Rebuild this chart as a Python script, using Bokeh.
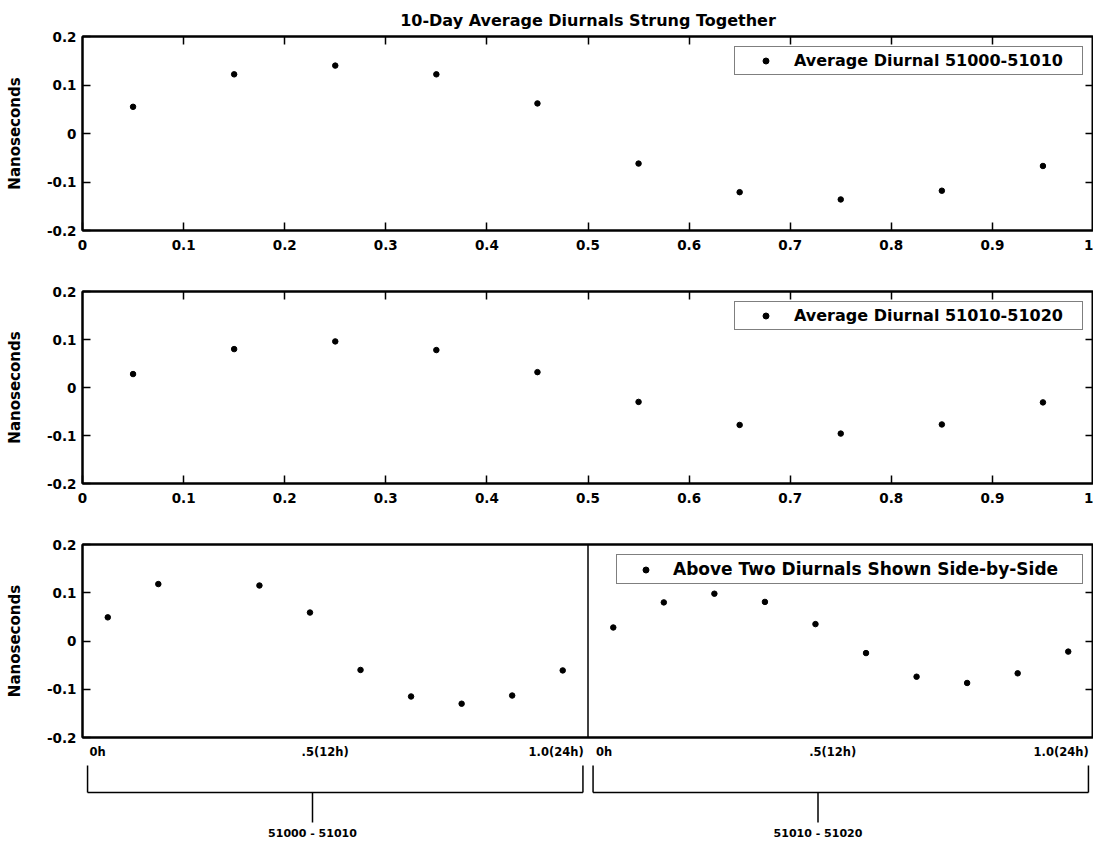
from bokeh.plotting import figure
from bokeh.layouts import column
from bokeh.models import (Range1d, FixedTicker, LinearAxis, Legend, LegendItem, Span,
                          CustomJSTickFormatter)
from bokeh.embed import file_html
from bokeh.resources import INLINE
from bokeh.core.properties import value

FONT = "DejaVu Sans"

# ---------------- data ----------------
title_text = "10-Day Average Diurnals Strung Together"
y_label = "Nanoseconds"

x_ticks = [0, 0.1, 0.2, 0.3, 0.4, 0.5, 0.6, 0.7, 0.8, 0.9, 1]
x_tick_labels = ["0", "0.1", "0.2", "0.3", "0.4", "0.5", "0.6", "0.7", "0.8", "0.9", "1"]
y_ticks = [-0.2, -0.1, 0, 0.1, 0.2]
y_tick_labels = ["-0.2", "-0.1", "0", "0.1", "0.2"]
inner_x_ticks = [0.1, 0.2, 0.3, 0.4, 0.5, 0.6, 0.7, 0.8, 0.9]
inner_y_ticks = [-0.1, 0, 0.1]

day_fraction = [0.05, 0.15, 0.25, 0.35, 0.45, 0.55, 0.65, 0.75, 0.85, 0.95]
diurnal_51000_51010 = [0.055, 0.122, 0.140, 0.122, 0.062, -0.062, -0.121, -0.136, -0.118, -0.067]
diurnal_51010_51020 = [0.028, 0.080, 0.096, 0.078, 0.032, -0.030, -0.078, -0.096, -0.077, -0.031]

side_first_x = [0.05, 0.15, 0.35, 0.45, 0.55, 0.65, 0.75, 0.85, 0.95]
side_first_y = [0.049, 0.118, 0.115, 0.059, -0.060, -0.115, -0.130, -0.113, -0.061]
side_second_x = [1.05, 1.15, 1.25, 1.35, 1.45, 1.55, 1.65, 1.75, 1.85, 1.95]
side_second_y = [0.028, 0.080, 0.098, 0.081, 0.035, -0.025, -0.074, -0.087, -0.067, -0.022]

legend_top = "Average Diurnal 51000-51010"
legend_mid = "Average Diurnal 51010-51020"
legend_bot = "Above Two Diurnals Shown Side-by-Side"

hour_tick_labels = ["0h", ".5(12h)", "1.0(24h)", "0h", ".5(12h)", "1.0(24h)"]
hour_tick_positions = [0.03, 0.48, 0.937, 1.032, 1.484, 1.936]

bracket_starts = [0, 1]
bracket_labels = ["51000 - 51010", "51010 - 51020"]

# ---------------- helpers ----------------
W = 1093
LEFT = 82
RIGHT = 0


def label_formatter(tick_values, tick_texts):
    return CustomJSTickFormatter(args=dict(tvals=tick_values, ttexts=tick_texts), code="""
        let best = 0, d = Infinity;
        for (let i = 0; i < tvals.length; i++) {
            const e = Math.abs(tvals[i] - tick);
            if (e < d) { d = e; best = i; }
        }
        return d < 1e-6 ? ttexts[best] : "";
    """)


def make_axis(ticks, labels=None, font_size="13.5px", standoff=8, tick_len=8, show_ticks=True):
    ax = LinearAxis()
    ax.ticker = FixedTicker(ticks=ticks)
    ax.minor_tick_line_color = None
    ax.axis_line_color = "black"
    ax.axis_line_width = 2
    ax.major_tick_in = tick_len
    ax.major_tick_out = 0
    ax.major_tick_line_width = 1.5
    ax.major_tick_line_color = "black" if show_ticks else None
    ax.major_label_text_font = FONT
    ax.major_label_text_font_style = "bold"
    ax.major_label_text_color = "black"
    if labels is None:
        ax.major_label_text_font_size = "0px"
        ax.major_label_standoff = 0
        ax.formatter = label_formatter(ticks, [""] * len(ticks))
    else:
        ax.major_label_text_font_size = font_size
        ax.major_label_standoff = standoff
        ax.formatter = label_formatter(ticks, labels)
    return ax


def make_panel(height, top, bottom, x_end):
    p = figure(width=W, height=height, x_range=Range1d(0, x_end), y_range=Range1d(-0.2, 0.2),
               output_backend="svg", toolbar_location=None,
               min_border_left=LEFT, min_border_right=RIGHT,
               min_border_top=top, min_border_bottom=bottom,
               x_axis_location=None, y_axis_location=None)
    p.xgrid.visible = False
    p.ygrid.visible = False
    p.outline_line_color = "black"
    p.outline_line_width = 2
    p.background_fill_color = "white"
    p.border_fill_color = "white"
    left = make_axis(y_ticks, y_tick_labels, font_size="13.5px", standoff=6)
    left.axis_label = y_label
    left.axis_label_text_font = FONT
    left.axis_label_text_font_style = "bold"
    left.axis_label_text_font_size = "15px"
    left.axis_label_text_color = "black"
    left.axis_label_standoff = 20
    p.add_layout(left, "left")
    p.add_layout(make_axis(inner_y_ticks), "right")
    return p


def make_legend(label, renderers, font_size, glyph_w, standoff, label_w):
    return Legend(items=[LegendItem(label=label, renderers=renderers)],
                  location="top_right", margin=10, padding=4, spacing=0,
                  glyph_width=glyph_w, glyph_height=15, label_standoff=standoff,
                  label_width=label_w, label_height=15,
                  border_line_color="black", border_line_width=1.5,
                  label_text_font=FONT, label_text_font_style="bold",
                  label_text_font_size=font_size, label_text_color="black",
                  background_fill_color="white", background_fill_alpha=1.0)


# ---------------- top panel ----------------
p1 = make_panel(262, 36, 32, 1)
p1.title.text = title_text
p1.title.align = "center"
p1.title.vertical_align = "top"
p1.title.text_font = FONT
p1.title.text_font_style = "bold"
p1.title.text_font_size = "16px"
p1.title.text_color = "black"
p1.title.standoff = 10
p1.add_layout(make_axis(x_ticks, x_tick_labels, standoff=9), "below")
p1.add_layout(make_axis(inner_x_ticks), "above")
r1 = p1.scatter(day_fraction, diurnal_51000_51010, size=5.5, color="black", marker="circle")
p1.add_layout(make_legend(legend_top, [r1], "16px", 53, 2, 284))

# ---------------- middle panel ----------------
p2 = make_panel(253, 29, 32, 1)
p2.add_layout(make_axis(x_ticks, x_tick_labels, standoff=9), "below")
p2.add_layout(make_axis(inner_x_ticks), "above")
r2 = p2.scatter(day_fraction, diurnal_51010_51020, size=5.5, color="black", marker="circle")
p2.add_layout(make_legend(legend_mid, [r2], "16px", 53, 2, 284))

# ---------------- bottom panel ----------------
p3 = make_panel(247, 29, 25, 2)
p3.add_layout(make_axis(hour_tick_positions, hour_tick_labels, font_size="11.5px",
                        standoff=7, show_ticks=False), "below")
p3.add_layout(make_axis([1], show_ticks=False), "above")
p3.add_layout(Span(location=1, dimension="height", line_color="black", line_width=1.5))
r3a = p3.scatter(side_first_x, side_first_y, size=5.5, color="black", marker="circle")
r3b = p3.scatter(side_second_x, side_second_y, size=5.5, color="black", marker="circle")
p3.add_layout(make_legend(legend_bot, [r3a], "17px", 49, 3, 405))

# ---------------- brackets below ----------------
H4 = 82
p4 = figure(width=W, height=H4, x_range=Range1d(0, 2), y_range=Range1d(0, H4),
            output_backend="svg", toolbar_location=None,
            min_border_left=LEFT, min_border_right=RIGHT, min_border_top=0, min_border_bottom=0,
            x_axis_location=None, y_axis_location=None)
p4.xgrid.visible = False
p4.ygrid.visible = False
p4.outline_line_color = None
p4.background_fill_color = "white"
p4.border_fill_color = "white"

BR_L, BR_R, BR_MID = 0.01, 0.99, 0.455
BR_TOP, BR_BAR, BR_STEM = 79, 52, 22
x0s, y0s, x1s, y1s = [], [], [], []
mids = []
for s in bracket_starts:
    xl, xr, xm = s + BR_L, s + BR_R, s + BR_MID
    x0s += [xl, xr, xl, xm]
    x1s += [xl, xr, xr, xm]
    y0s += [BR_TOP, BR_TOP, BR_BAR, BR_BAR]
    y1s += [BR_BAR, BR_BAR, BR_BAR, BR_STEM]
    mids.append(xm)
p4.segment(x0s, y0s, x1s, y1s, line_color="black", line_width=1.5)
p4.text(mids, [BR_STEM - 4] * len(mids), text=bracket_labels, text_align="center",
        text_baseline="top", text_font=value(FONT), text_font_style="bold",
        text_font_size="11px", text_color="black")

layout = column(p1, p2, p3, p4, spacing=0)

with open("out.html", "w") as f:
    f.write(file_html(layout, INLINE))
